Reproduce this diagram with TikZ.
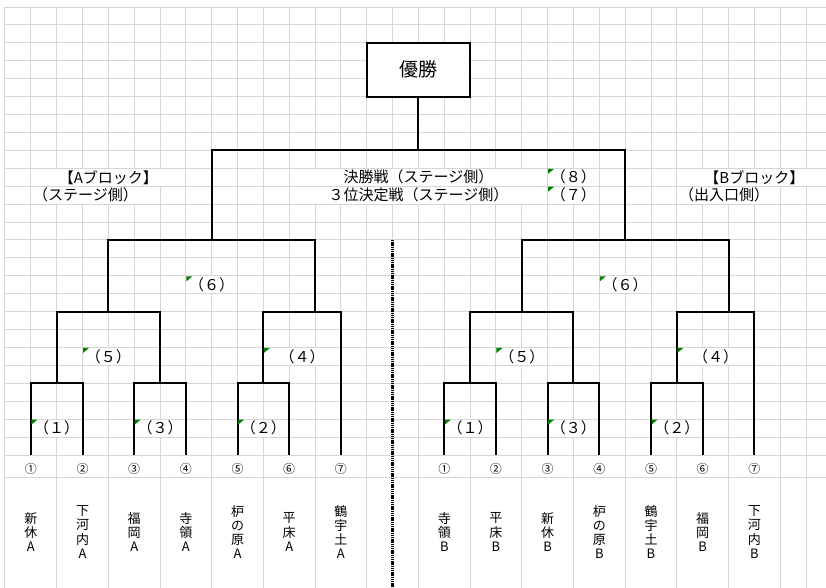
\documentclass[tikz,border=0pt]{standalone}
\usepackage{fontspec}
\setmainfont{Noto Sans CJK JP}
\definecolor{cellgray}{RGB}{214,214,214}
\definecolor{flaggreen}{RGB}{0,128,0}

\begin{document}
\begin{tikzpicture}
        [
            x = 25.84pt, y = -17.92pt,
            grid line/.style = {draw = cellgray, line width = 1pt},
            merged/.style = {fill = white, draw = cellgray, line width = 1pt},
            bracket/.style = {line width = 2pt},
            divider/.style = {line width = 3pt, dash pattern = on 1.5pt off 0.7pt},
            flag/.style = {fill = flaggreen},
            lbl/.style = {inner sep = 0pt, font = \fontsize{15}{17}\selectfont},
            seedno/.style = {inner sep = 0pt, font = \fontsize{12}{14}\selectfont},
            team/.style = {inner sep = 0pt, align = center, font = \fontsize{13}{14.3}\selectfont},
            champbox/.style = {draw, fill = white, line width = 2pt,
                minimum width = 103.4pt, minimum height = 53.8pt,
                font = \fontsize{19}{22}\selectfont}
        ]

        \path[use as bounding box, fill = white] (-0.1935,-0.3906) rectangle (31.772,32.42);

        % sheet grid
        \foreach \j in {0,...,25}
            \draw[grid line] (0,\j) -- (31.8,\j);
        \draw[grid line] (0,26.28) -- (31.8,26.28);
        \foreach \i in {0,...,31}
            \draw[grid line] (\i,0) -- (\i,25);
        \foreach \i in {0,2,...,14,16,18,...,30,31}
            \draw[grid line] (\i,25) -- (\i,32.5);

        % merged cells
        \foreach \x/\y/\w in {1/9/6, 11/9/10, 21/9/2, 26/9/6,
                              1/10/5, 11/10/10, 21/10/2, 26/10/4}
            \filldraw[merged] (\x,\y) rectangle ++(\w,1);
        \foreach \dx in {0,16}
            \foreach \x/\y/\w in {1/23/2, 5/23/2, 9/23/2, 3/19/2, 10/19/3, 7/15/2}
                \filldraw[merged] (\x+\dx,\y) rectangle ++(\w,1);

        \coordinate (divtop) at (15,13);
        \coordinate (divbot) at (15,32.5);
        \draw[divider] (divtop) -- (divbot);

        % seeds
        \foreach \i in {1,...,7} {
            \coordinate (sA\i) at ({2*\i-1},25);
            \coordinate (sB\i) at ({2*\i+15},25);
        }

        % blocks
        \foreach \s/\dx in {A/0,B/16} {
            \coordinate (m\s1) at (2+\dx,21);
            \coordinate (m\s3) at (6+\dx,21);
            \coordinate (m\s2) at (10+\dx,21);
            \coordinate (m\s5) at (4+\dx,17);
            \coordinate (m\s4) at (12+\dx,17);
            \coordinate (m\s6) at (8+\dx,13);

            \draw[bracket] (s\s1) |- (m\s1) -| (s\s2);
            \draw[bracket] (s\s3) |- (m\s3) -| (s\s4);
            \draw[bracket] (s\s5) |- (m\s2) -| (s\s6);
            \draw[bracket] (m\s1) |- (m\s5) -| (m\s3);
            \draw[bracket] (m\s2) |- (m\s4) -| (s\s7);
            \draw[bracket] (m\s5) |- (m\s6) -| (m\s4);

            \node[lbl] (g\s1) at (2+\dx,23.5) {（１）};
            \node[lbl] (g\s3) at (6+\dx,23.5) {（３）};
            \node[lbl] (g\s2) at (10+\dx,23.5) {（２）};
            \node[lbl] (g\s5) at (4+\dx,19.5) {（５）};
            \node[lbl] (g\s4) at (11.5+\dx,19.5) {（４）};
            \node[lbl] (g\s6) at (8+\dx,15.5) {（６）};

            \foreach \fx/\fy in {1/23, 5/23, 9/23, 3/19, 10/19, 7/15}
                \fill[flag] (\fx+\dx,\fy) ++(0.5pt,-0.5pt) -- ++(6pt,0) -- ++(-6pt,-5pt) -- cycle;
        }

        % final
        \node[champbox] (champ) at (16,3.5) {優勝};
        \coordinate (final) at (16,8);
        \draw[bracket] (mA6) |- (final) -| (mB6);
        \draw[bracket] (final) -- (champ.south);

        \node[lbl] (blkA) at (4,9.5) {【Aブロック】};
        \node[lbl, anchor = west] (sideA) at ([xshift = 2pt]1,10.5) {（ステージ側）};
        \node[lbl] (finalgame) at (16,9.5) {決勝戦（ステージ側）};
        \node[lbl] (thirdgame) at (16,10.5) {３位決定戦（ステージ側）};
        \node[lbl] (g8) at (22,9.5) {（８）};
        \node[lbl] (g7) at (22,10.5) {（７）};
        \node[lbl] (blkB) at (29,9.5) {【Bブロック】};
        \node[lbl, anchor = west] (sideB) at ([xshift = 2pt]26,10.5) {（出入口側）};
        \foreach \fy in {9,10}
            \fill[flag] (21,\fy) ++(0.5pt,-0.5pt) -- ++(6pt,0) -- ++(-6pt,-5pt) -- cycle;

        % seed numbers and teams
        \foreach \c [count=\i] in {①,②,③,④,⑤,⑥,⑦} {
            \node[seedno] (nA\i) at ({2*\i-1},25.8) {\c};
            \node[seedno] (nB\i) at ({2*\i+15},25.8) {\c};
        }
        \foreach \t [count=\i] in {{新\\休\\A},{下\\河\\内\\A},{福\\岡\\A},{寺\\領\\A},
                                   {枦\\の\\原\\A},{平\\床\\A},{鶴\\宇\\土\\A}}
            \node[team] (tA\i) at ({2*\i-1},29.3) {\t};
        \foreach \t [count=\i] in {{寺\\領\\B},{平\\床\\B},{新\\休\\B},{枦\\の\\原\\B},
                                   {鶴\\宇\\土\\B},{福\\岡\\B},{下\\河\\内\\B}}
            \node[team] (tB\i) at ({2*\i+15},29.3) {\t};
\end{tikzpicture}
\end{document}
